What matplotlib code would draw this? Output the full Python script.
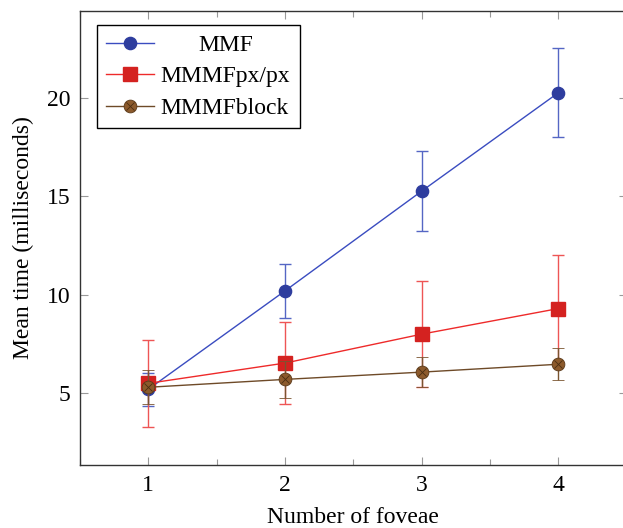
import matplotlib
matplotlib.use("Agg")
import matplotlib.pyplot as plt
from matplotlib.legend_handler import HandlerTuple
from matplotlib.ticker import MultipleLocator

plt.rcParams['font.family'] = ['Liberation Serif', 'DejaVu Serif']

foveae = [1, 2, 3, 4]
mmf_mean = [5.2, 10.2, 15.27, 20.27]
mmf_err = [0.85, 1.37, 2.03, 2.25]
px_mean = [5.5, 6.53, 8.0, 9.3]
px_err = [2.2, 2.09, 2.69, 2.72]
block_mean = [5.3, 5.7, 6.07, 6.47]
block_err = [0.87, 0.95, 0.76, 0.81]
labels = ["MMF", "MMMFpx/px", "MMMFblock"]

fig = plt.figure(figsize=(6.23, 5.28), dpi=100)
ax = fig.add_axes([80/623, 1 - 465/528, 546.8/623, 454/528])

blue_line, blue_fill, blue_err = "#3a4cc0", "#2e3d9e", "#5566c4"
red_line, red_fill, red_err = "#ee2a2a", "#d42220", "#ee5555"
brown_line, brown_fill, brown_err = "#6e4a28", "#8c5a2c", "#7a5530"

cap = 4.3
h1 = ax.errorbar(foveae, mmf_mean, yerr=mmf_err, color=blue_line, lw=1.0,
                 marker='o', ms=8.8, mfc=blue_fill, mec=blue_fill,
                 ecolor=blue_err, elinewidth=1.0, capsize=cap, capthick=1.0, zorder=3)
h2 = ax.errorbar(foveae, px_mean, yerr=px_err, color=red_line, lw=1.0,
                 marker='s', ms=9.5, mfc=red_fill, mec=red_fill,
                 ecolor=red_err, elinewidth=1.0, capsize=cap, capthick=1.0, zorder=4)
h3 = ax.errorbar(foveae, block_mean, yerr=block_err, color=brown_line, lw=1.0,
                 marker='o', ms=9.2, mfc=brown_fill, mec="#5a3a1a", mew=0.6,
                 ecolor=brown_err, elinewidth=1.0, capsize=cap, capthick=1.0, zorder=5)
cross, = ax.plot(foveae, block_mean, ls='none', marker='x', ms=5.8,
                 mec="#4a2e12", mew=0.6, zorder=6)

ax.set_xlim(0.5, 4.5)
ax.set_ylim(1.35, 24.42)
ax.set_xticks(foveae)
ax.xaxis.set_minor_locator(MultipleLocator(0.5))
ax.set_yticks([5, 10, 15, 20])

ax.tick_params(which='both', direction='in', top=True, right=True,
               color='#999999', labelsize=17, width=0.8)
ax.tick_params(which='major', length=6, pad=7)
ax.tick_params(which='minor', length=4)
for s in ax.spines.values():
    s.set_color('#333333')
    s.set_linewidth(1.0)

ax.set_xlabel("Number of foveae", fontsize=17, labelpad=8)
ax.set_ylabel("Mean time (milliseconds)", fontsize=17, labelpad=9)

leg = ax.legend([h1.lines[0], h2.lines[0], (h3.lines[0], cross)], labels,
                handler_map={tuple: HandlerTuple(ndivide=1, pad=0)},
                loc='upper left', bbox_to_anchor=(0.031, 0.969),
                fontsize=17, frameon=True, fancybox=False, edgecolor='black',
                framealpha=1, handlelength=2.0, handletextpad=0.3,
                borderpad=0.4, labelspacing=0.42, borderaxespad=0)
leg.get_frame().set_linewidth(1.0)

# centre the first legend entry within the text column
fig.canvas.draw()
renderer = fig.canvas.get_renderer()
texts = leg.get_texts()
widths = [t.get_window_extent(renderer).width for t in texts]
texts[0].set_position(((max(widths) - widths[0]) / 2, 0))

fig.savefig("out.png", dpi=100)
